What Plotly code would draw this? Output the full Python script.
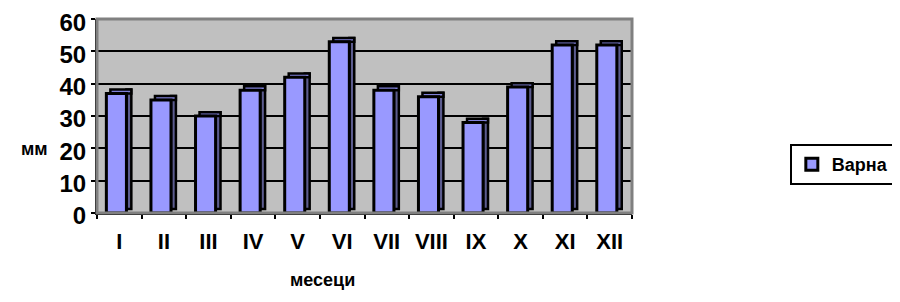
import plotly.graph_objects as go

months = ["I", "II", "III", "IV", "V", "VI", "VII", "VIII", "IX", "X", "XI", "XII"]
varna = [37, 35, 30, 38, 42, 53, 38, 36, 28, 39, 52, 52]
y_ticks = [0, 10, 20, 30, 40, 50, 60]

FONT = "Liberation Sans, Arial, sans-serif"
depth = 1.2

fig = go.Figure()
# side face (3D look)
fig.add_trace(go.Bar(
    x=months, y=varna, base=[depth] * len(varna),
    width=0.11, offset=0.16,
    marker=dict(color="#5c5c8f", line=dict(color="black", width=2.5)),
    showlegend=False, hoverinfo="skip"))
# top cap
fig.add_trace(go.Bar(
    x=months, y=[depth] * len(varna), base=varna,
    width=0.47, offset=-0.2,
    marker=dict(color="#8080d8", line=dict(color="black", width=2.5)),
    showlegend=False, hoverinfo="skip"))
# front face
fig.add_trace(go.Bar(
    x=months, y=varna, name="Варна",
    width=0.45, offset=-0.29,
    marker=dict(color="#9999FF", line=dict(color="black", width=3))))

fig.update_layout(
    width=900, height=302,
    margin=dict(l=89, r=276, t=11, b=97, autoexpand=False),
    barmode="overlay",
    paper_bgcolor="white",
    plot_bgcolor="#C0C0C0",
    font=dict(family=FONT, color="black"),
    showlegend=True,
    legend=dict(x=1.295, y=0.25, xanchor="left", yanchor="middle",
                bordercolor="black", borderwidth=2,
                font=dict(size=18, family=FONT, weight="bold"),
                itemwidth=30, tracegroupgap=0),
    shapes=[dict(type="rect", xref="paper", yref="paper", x0=0, x1=1, y0=0, y1=1,
                 line=dict(color="#808080", width=3), layer="above")],
    annotations=[
        dict(text="мм", xref="paper", yref="paper", x=-0.116, y=0.33,
             xanchor="center", yanchor="middle",
             showarrow=False, font=dict(size=18, family=FONT, weight="bold")),
        dict(text="месеци", xref="paper", yref="paper", x=0.422, y=-0.345,
             xanchor="center", yanchor="middle",
             showarrow=False, font=dict(size=18, family=FONT, weight="bold")),
    ],
)
fig.update_xaxes(
    type="category", categoryorder="array", categoryarray=months,
    tickson="boundaries", ticks="outside", ticklen=4, tickwidth=2, tickcolor="black",
    showline=True, linecolor="black", linewidth=2, tickangle=0,
    tickfont=dict(size=22, family=FONT, weight="bold"), ticklabelstandoff=8,
    automargin=False, showgrid=False, range=[-0.5, 11.5])
fig.update_yaxes(
    range=[0, 60.05], tickvals=y_ticks, ticks="outside", ticklen=4, tickwidth=2, tickcolor="black",
    showline=True, linecolor="black", linewidth=2,
    gridcolor="black", gridwidth=2, ticklabeloverflow="allow", ticklabelshift=3,
    tickfont=dict(size=24, family=FONT, weight="bold"),
    automargin=False, zeroline=False)

fig.write_html("out.html")
